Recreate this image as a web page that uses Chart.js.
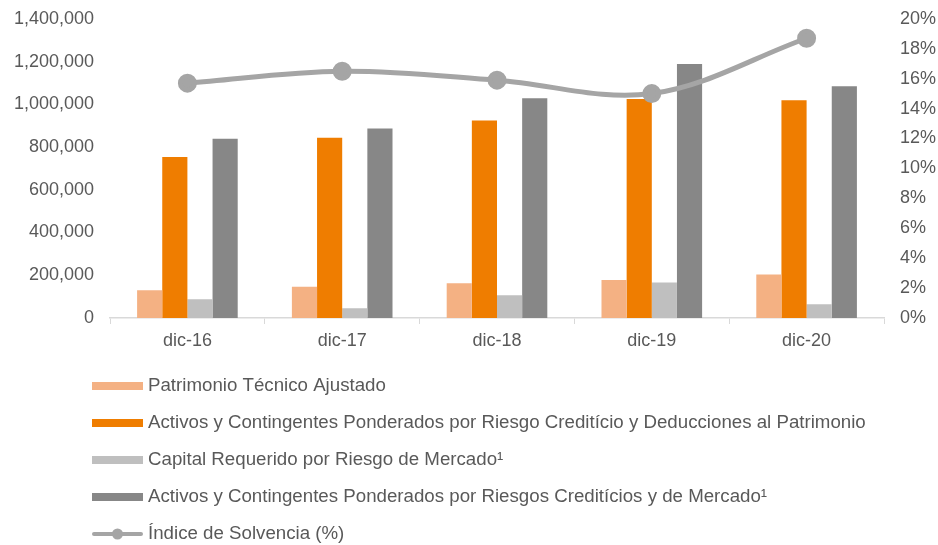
<!DOCTYPE html>
<html>
<head>
<meta charset="utf-8">
<script src="https://cdn.jsdelivr.net/npm/chart.js@4.4.1/dist/chart.umd.min.js"></script>
<style>
  body { margin: 0; background: #fff; }
  #wrap { width: 938px; height: 545px; }
</style>
</head>
<body>
<div id="wrap"><canvas id="myChart" width="938" height="545"></canvas></div>
<script>
const labels = ["dic-16", "dic-17", "dic-18", "dic-19", "dic-20"];
const patrimonio = [130000, 146000, 163000, 178000, 203000];
const activosCredito = [753000, 843000, 924000, 1025000, 1019000];
const capitalMercado = [88000, 46000, 106000, 166000, 64000];
const activosTotal = [839000, 887000, 1028000, 1189000, 1084000];
const solvencia = [15.7, 16.5, 15.9, 15.0, 18.7];
const leftTicks = [0, 200000, 400000, 600000, 800000, 1000000, 1200000, 1400000];
const rightTicks = [0, 2, 4, 6, 8, 10, 12, 14, 16, 18, 20];

const TEXT = "#595959";
const FONT = "Liberation Sans";

// leyenda vertical dibujada debajo del grafico
const drawLegend = (chart, datasets) => {
    const ctx = chart.ctx;
    const x0 = 92, w = 51, startY = 386, step = 37;
    ctx.save();
    ctx.font = "18.7px '" + FONT + "'";
    ctx.textBaseline = "middle";
    datasets.forEach((ds, i) => {
        const y = startY + i * step;
        if (ds.type === "line") {
            ctx.strokeStyle = ds.borderColor;
            ctx.lineWidth = 4;
            ctx.lineCap = "round";
            ctx.beginPath();
            ctx.moveTo(x0 + 2, y);
            ctx.lineTo(x0 + w - 2, y);
            ctx.stroke();
            ctx.fillStyle = ds.borderColor;
            ctx.beginPath();
            ctx.arc(x0 + w / 2, y, 5.5, 0, Math.PI * 2);
            ctx.fill();
        } else {
            ctx.fillStyle = ds.backgroundColor;
            ctx.fillRect(x0, y - 4, w, 8);
        }
        ctx.fillStyle = TEXT;
        ctx.fillText(ds.label, 148, y);
    });
    ctx.restore();
};

const data = {
    labels: labels,
    datasets: [
        {
            type: "line",
            label: "Índice de Solvencia (%)",
            data: solvencia,
            yAxisID: "y1",
            borderColor: "#A5A5A5",
            backgroundColor: "#A5A5A5",
            borderWidth: 5,
            pointRadius: 7,
            pointHoverRadius: 7,
            tension: 0.35,
            order: 0
        },
        { label: "Patrimonio Técnico Ajustado", data: patrimonio, backgroundColor: "#F4B183", order: 1 },
        { label: "Activos y Contingentes Ponderados por Riesgo Creditício y Deducciones al Patrimonio", data: activosCredito, backgroundColor: "#EF7D00", order: 1 },
        { label: "Capital Requerido por Riesgo de Mercado¹", data: capitalMercado, backgroundColor: "#BFBFBF", order: 1 },
        { label: "Activos y Contingentes Ponderados por Riesgos Creditícios y de Mercado¹", data: activosTotal, backgroundColor: "#878787", order: 1 }
    ]
};
// la linea va al final de la leyenda
const legendOrder = [1, 2, 3, 4, 0];

const config = {
    type: "bar",
    data: data,
    plugins: [{
        id: "vlegend",
        afterDraw(chart) {
            drawLegend(chart, legendOrder.map(i => chart.data.datasets[i]));
        }
    }],
    options: {
        responsive: false,
        animation: false,
        layout: { padding: { top: 9, bottom: 197, left: 0, right: 0 } },
        categoryPercentage: 0.65,
        barPercentage: 1.0,
        plugins: { legend: { display: false }, tooltip: { enabled: false } },
        scales: {
            x: {
                grid: { display: true, drawOnChartArea: false, color: "#D9D9D9", tickLength: 6, offset: true },
                border: { color: "#D9D9D9", width: 1.5 },
                ticks: { color: TEXT, font: { family: FONT, size: 18 }, padding: 6 },
                afterFit(scale) { scale.height = 30; }
            },
            y: {
                position: "left",
                min: 0,
                max: 1400000,
                afterBuildTicks(scale) { scale.ticks = leftTicks.map(v => ({ value: v })); },
                grid: { display: false },
                border: { display: false },
                ticks: {
                    color: TEXT,
                    font: { family: FONT, size: 18 },
                    padding: 8,
                    callback: v => v.toLocaleString("en-US")
                },
                afterFit(scale) { scale.width = 110; }
            },
            y1: {
                position: "right",
                min: 0,
                max: 20,
                afterBuildTicks(scale) { scale.ticks = rightTicks.map(v => ({ value: v })); },
                grid: { display: false },
                border: { display: false },
                ticks: {
                    color: TEXT,
                    font: { family: FONT, size: 18 },
                    padding: 8,
                    callback: v => v + "%"
                },
                afterFit(scale) { scale.width = 54; }
            }
        }
    }
};

var myChart = new Chart(document.getElementById("myChart"), config);
</script>
</body>
</html>
